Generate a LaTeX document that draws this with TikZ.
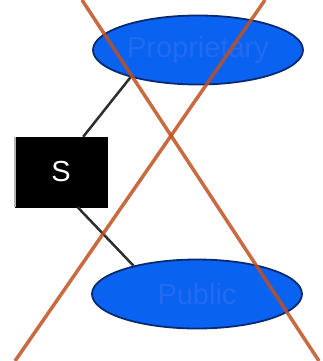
\documentclass[tikz,border=0pt]{standalone}
\usepackage{fontspec}
\setmainfont{Liberation Sans}
\usetikzlibrary{shapes.geometric,calc}
\definecolor{ellfill}{HTML}{0A62F0}
\definecolor{ellline}{HTML}{0A2A70}
\definecolor{elltext}{HTML}{226AF0}
\definecolor{crossred}{HTML}{C0501F}
\definecolor{conn}{HTML}{2E2E2E}
\tikzset{
  oval/.style={ellipse, draw=ellline, line width=1.8pt, fill=ellfill, text=elltext,
    minimum width=210pt, minimum height=69pt, inner sep=0pt, font=\fontsize{29}{30}\selectfont},
  blackbox/.style={rectangle, draw=black, fill=black, text=white, minimum width=92pt,
    minimum height=70pt, inner sep=0pt, font=\fontsize{29}{30}\selectfont},
  link/.style={draw=conn, line width=2.5pt},
  crossline/.style={draw=crossred, line width=3.5pt, opacity=0.85}
}
\begin{document}
\begin{tikzpicture}[x=1pt,y=-1pt]
\useasboundingbox (0,0) rectangle (322,361);
\fill[white] (0,0) rectangle (322,361);
\node[oval] (prop) at (198,50) {Proprietary};
\node[oval] (pub) at (197,294) {Public};
\node[blackbox] (s) at (61,172) {S};
\draw[black!30, line width=1.5pt] (s.north west) -- (s.south west);
\coordinate (c1) at ($(s.north west)!0.74!(s.north east)$);
\coordinate (c2) at ($(s.south west)!0.68!(s.south east)$);
\draw[link] (c1) -- (prop.202);
\draw[link] (c2) -- (pub.156);
\coordinate (r1a) at (82,0);
\coordinate (r1b) at (319,361);
\coordinate (r2a) at (265,0);
\coordinate (r2b) at (15,361);
\draw[crossline] (r1a) -- (r1b);
\draw[crossline] (r2a) -- (r2b);
\end{tikzpicture}
\end{document}
